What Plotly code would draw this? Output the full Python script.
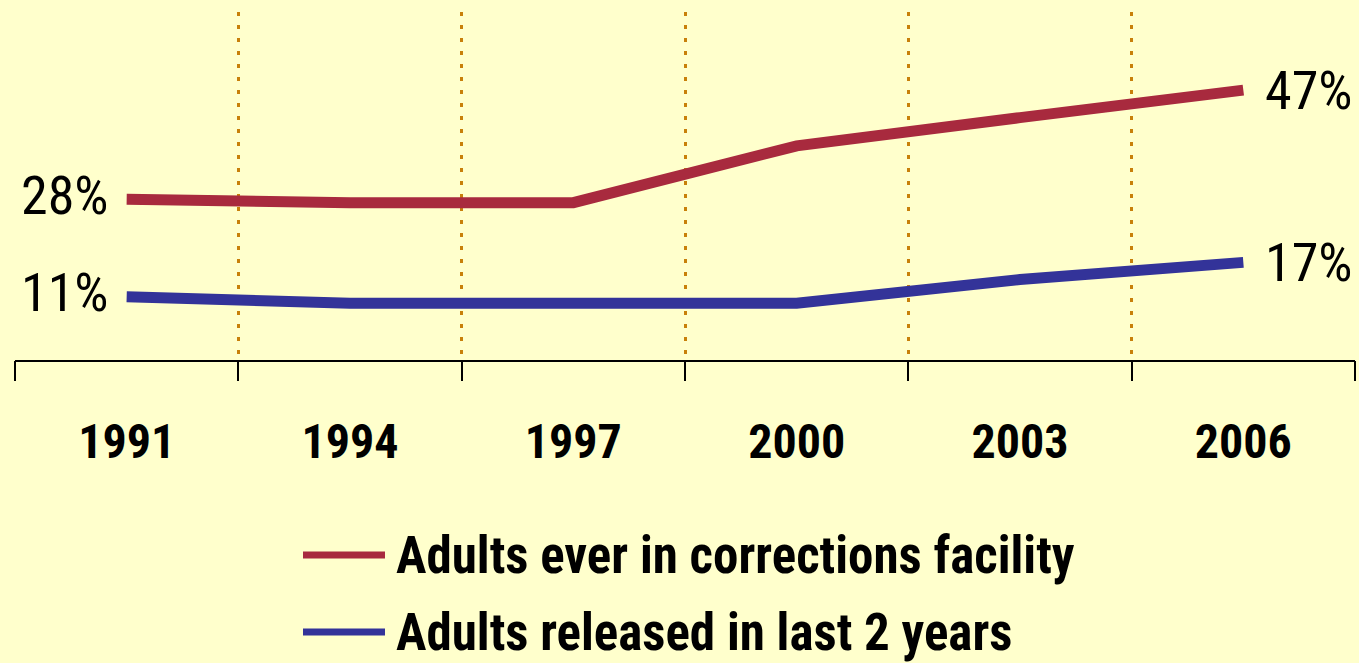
import plotly.graph_objects as go

years = [1991, 1994, 1997, 2000, 2003, 2006]
year_labels = ["1991", "1994", "1997", "2000", "2003", "2006"]
ever_in_facility = [28, 27.4, 27.4, 37.3, 42.2, 47]
released_last2 = [11, 9.9, 9.9, 9.9, 14, 17]
series_names = ["Adults ever in corrections facility", "Adults released in last 2 years"]
series_colors = ["#A82A3E", "#333399"]

FONT = "Liberation Sans Narrow, Arial Narrow, Roboto Condensed, sans-serif"
BG = "#FFFFCC"
GRID = "#C8800A"

boundaries = [years[0] - 1.5 + 3 * i for i in range(len(years) + 1)]
xr = [boundaries[0], boundaries[-1]]

fig = go.Figure()
for vals, name, col in zip([ever_in_facility, released_last2], series_names, series_colors):
    fig.add_trace(go.Scatter(x=years, y=vals, mode="lines", name=name,
                             line=dict(color=col, width=11), showlegend=False,
                             hoverinfo="skip"))
    fig.add_annotation(x=years[0], y=vals[0], text=f"{vals[0]:.0f}%", xanchor="right",
                       yanchor="middle", xshift=-16, yshift=4, showarrow=False,
                       font=dict(family=FONT, size=54, color="black", shadow="none"))
    fig.add_annotation(x=years[-1], y=vals[-1], text=f"{vals[-1]:.0f}%", xanchor="left",
                       yanchor="middle", xshift=20, showarrow=False,
                       font=dict(family=FONT, size=54, color="black", shadow="none"))

# dummy trace for the overlay axis carrying boundary ticks and grid
fig.add_trace(go.Scatter(x=[xr[0]], y=[0], xaxis="x2", mode="markers",
                         marker=dict(opacity=0), showlegend=False, hoverinfo="skip"))

# manual legend (paper coords relative to plot area: plot spans y 12..360, x 15..1355)
def py(pix):
    return (360 - pix) / 348

def px(pix):
    return (pix - 15) / 1340

legend_y = [py(555), py(632)]
for name, col, ly in zip(series_names, series_colors, legend_y):
    fig.add_shape(type="line", xref="paper", yref="paper", x0=px(303), x1=px(385),
                  y0=ly, y1=ly, line=dict(color=col, width=7))
    fig.add_annotation(xref="paper", yref="paper", x=px(394), y=ly, text=name,
                       xanchor="left", yanchor="middle", showarrow=False,
                       font=dict(family=FONT, size=51, color="black", weight="bold",
                                 shadow="none"))

fig.update_layout(
    width=1359, height=663,
    margin=dict(l=15, r=4, t=12, b=303),
    paper_bgcolor=BG, plot_bgcolor=BG,
    xaxis=dict(range=xr, tickvals=years, ticktext=year_labels, ticks="",
               showgrid=False, zeroline=False, showline=True, linecolor="black",
               linewidth=2, ticklabelstandoff=38,
               tickfont=dict(family=FONT, size=48, color="black", weight="bold",
                             shadow="none")),
    xaxis2=dict(range=xr, overlaying="x", side="bottom", tickvals=boundaries,
                showticklabels=False, ticks="outside", ticklen=20, tickwidth=2,
                tickcolor="black", showgrid=True, gridcolor=GRID, gridwidth=3,
                griddash="4px,9px", zeroline=False, showline=False),
    yaxis=dict(range=[0, 60.6], showgrid=False, zeroline=False, showticklabels=False,
               showline=False, ticks=""),
)

fig.write_html("out.html", config={"displayModeBar": False},
               post_script="document.body.style.margin='0';")
